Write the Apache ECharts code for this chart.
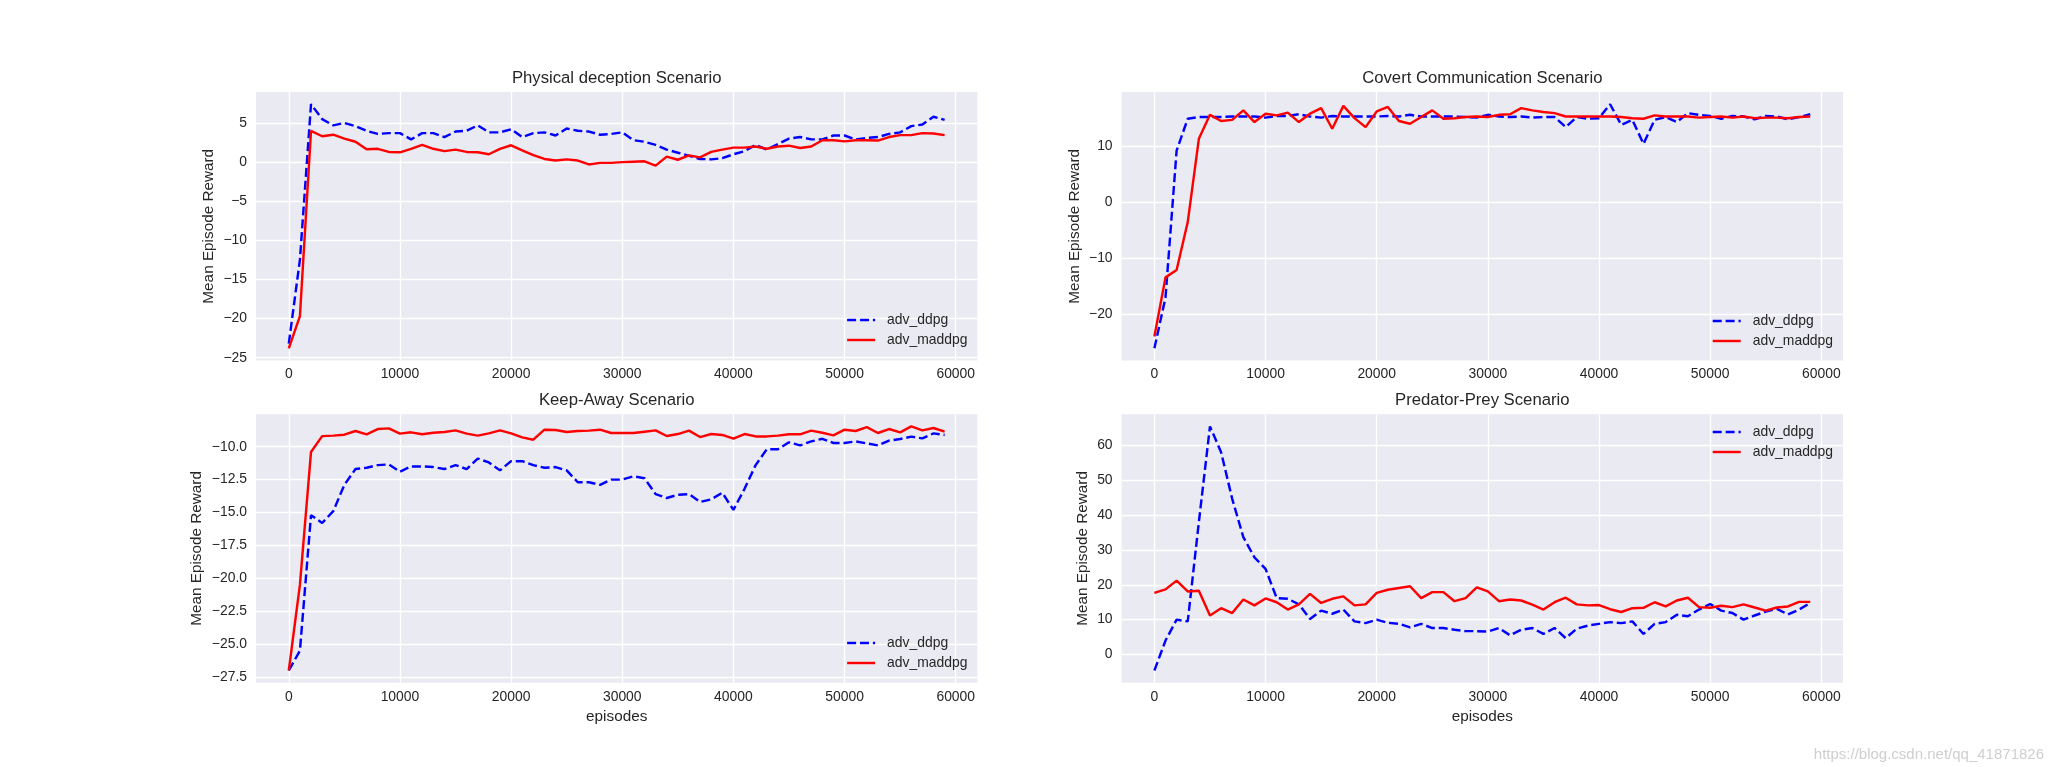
<!DOCTYPE html>
<html><head><meta charset="utf-8">
<script src="https://cdn.jsdelivr.net/npm/echarts@6/dist/echarts.min.js"></script>
<style>html,body{margin:0;padding:0;background:#fff}#c{width:2048px;height:767px}</style>
</head><body><div id="c"></div>
<script>
const episodes = [0,1000,2000,3000,4000,5000,6000,7000,8000,9000,10000,11000,12000,13000,14000,15000,16000,17000,18000,19000,20000,21000,22000,23000,24000,25000,26000,27000,28000,29000,30000,31000,32000,33000,34000,35000,36000,37000,38000,39000,40000,41000,42000,43000,44000,45000,46000,47000,48000,49000,50000,51000,52000,53000,54000,55000,56000,57000,58000,59000];

const titles = ['Physical deception Scenario','Covert Communication Scenario','Keep-Away Scenario','Predator-Prey Scenario'];
const seriesNames = ['adv_ddpg','adv_maddpg'];

const physDdpg = [-23.2,-12.5,7.4,5.5,4.7,5.0,4.6,4.0,3.6,3.7,3.7,2.9,3.7,3.7,3.2,3.9,4.0,4.7,3.8,3.8,4.2,3.2,3.7,3.8,3.4,4.3,4.0,3.9,3.5,3.6,3.8,2.8,2.6,2.2,1.6,1.2,0.8,0.4,0.35,0.5,1.0,1.4,2.2,1.6,2.3,3.0,3.2,2.9,2.9,3.4,3.4,2.9,3.1,3.2,3.6,3.8,4.6,4.8,5.8,5.4];
const physMaddpg = [-23.8,-19.7,4.0,3.3,3.5,3.0,2.6,1.65,1.7,1.3,1.25,1.7,2.2,1.7,1.4,1.6,1.3,1.25,1.0,1.7,2.15,1.5,0.9,0.4,0.2,0.35,0.2,-0.3,-0.1,-0.1,0.0,0.05,0.1,-0.45,0.7,0.3,0.85,0.6,1.3,1.6,1.85,1.85,2.0,1.7,2.0,2.1,1.8,2.0,2.8,2.8,2.65,2.8,2.8,2.75,3.2,3.45,3.45,3.7,3.65,3.45];

const covDdpg = [-26.1,-17.0,9.3,15.0,15.3,15.3,15.3,15.4,15.4,15.4,15.2,15.5,15.5,15.8,15.4,15.2,15.5,15.4,15.4,15.4,15.4,15.5,15.4,15.7,15.4,15.4,15.4,15.4,15.3,15.2,15.7,15.4,15.3,15.4,15.2,15.3,15.3,13.5,15.3,15.0,15.1,17.6,13.9,14.8,10.5,14.8,15.3,14.4,16.0,15.7,15.5,15.0,15.5,15.4,14.9,15.5,15.4,14.9,15.3,15.8];
const covMaddpg = [-24.0,-13.4,-12.1,-3.5,11.4,15.7,14.6,14.8,16.5,14.4,15.9,15.6,16.1,14.4,15.9,16.9,13.2,17.3,15.1,13.5,16.3,17.1,14.6,14.1,15.3,16.5,15.0,15.1,15.3,15.4,15.3,15.7,15.8,16.9,16.5,16.2,16.0,15.4,15.4,15.4,15.4,15.4,15.3,15.1,15.0,15.6,15.4,15.4,15.4,15.2,15.3,15.4,15.2,15.4,15.1,15.2,15.2,15.1,15.3,15.4];

const keepDdpg = [-27.0,-25.5,-15.2,-15.8,-14.9,-12.9,-11.7,-11.6,-11.4,-11.35,-11.9,-11.5,-11.5,-11.55,-11.7,-11.4,-11.7,-10.9,-11.2,-11.8,-11.1,-11.1,-11.4,-11.6,-11.55,-11.8,-12.7,-12.7,-12.9,-12.5,-12.5,-12.25,-12.4,-13.6,-13.9,-13.65,-13.6,-14.2,-14.0,-13.5,-14.8,-13.2,-11.4,-10.2,-10.2,-9.67,-9.9,-9.6,-9.4,-9.72,-9.72,-9.6,-9.75,-9.9,-9.54,-9.42,-9.24,-9.37,-8.99,-9.11];
const keepMaddpg = [-27.0,-20.5,-10.4,-9.2,-9.16,-9.09,-8.81,-9.06,-8.66,-8.61,-9.01,-8.91,-9.06,-8.94,-8.89,-8.76,-9.01,-9.16,-8.99,-8.76,-8.99,-9.29,-9.47,-8.71,-8.73,-8.89,-8.81,-8.78,-8.71,-8.96,-8.96,-8.96,-8.86,-8.76,-9.19,-9.04,-8.78,-9.27,-9.04,-9.11,-9.39,-9.04,-9.22,-9.22,-9.16,-9.06,-9.06,-8.78,-8.94,-9.14,-8.71,-8.81,-8.51,-8.96,-8.66,-8.91,-8.46,-8.76,-8.58,-8.86];

const predDdpg = [-4.6,4.0,10.0,9.5,38.0,65.5,58.1,44.7,33.7,27.9,24.6,16.2,16.0,14.4,10.2,12.6,11.7,12.9,9.5,9.0,10.0,9.1,8.8,7.8,8.8,7.6,7.6,7.1,6.7,6.7,6.6,7.6,5.5,7.1,7.6,5.9,7.6,4.7,7.4,8.3,8.8,9.3,9.0,9.5,5.9,8.8,9.3,11.4,11.0,12.9,14.5,12.6,11.9,10.0,11.2,12.3,13.1,11.5,12.9,14.8];
const predMaddpg = [17.7,18.7,21.2,18.1,18.3,11.2,13.3,11.9,15.8,14.1,16.1,15.0,12.9,14.4,17.4,14.8,16.0,16.7,14.1,14.4,17.7,18.6,19.1,19.6,16.2,17.9,17.9,15.3,16.2,19.3,18.1,15.3,15.8,15.5,14.3,12.9,15.0,16.3,14.4,14.1,14.2,13.0,12.2,13.3,13.4,15.0,13.8,15.5,16.3,13.6,13.4,14.0,13.6,14.4,13.5,12.6,13.5,13.8,15.1,15.1];

const xTicks = [0,10000,20000,30000,40000,50000,60000];
const physTicks = [-25,-20,-15,-10,-5,0,5];
const covTicks = [-20,-10,0,10];
const keepTicks = [-27.5,-25,-22.5,-20,-17.5,-15,-12.5,-10];
const predTicks = [0,10,20,30,40,50,60];

const FONT = '"Liberation Sans", Arial, sans-serif';
const TXT = '#262626';
const AX_L = [256, 1121.6], AX_T = [92, 414.2], AX_W = 721.4, AX_H = 268.5;

const panels = [
  {ddpg: physDdpg, maddpg: physMaddpg, ticks: physTicks, dec: 0, nameGap: 40, legendTop: 313},
  {ddpg: covDdpg, maddpg: covMaddpg, ticks: covTicks, dec: 0, nameGap: 39, legendTop: 314},
  {ddpg: keepDdpg, maddpg: keepMaddpg, ticks: keepTicks, dec: 1, nameGap: 51.5, legendTop: 636},
  {ddpg: predDdpg, maddpg: predMaddpg, ticks: predTicks, dec: 0, nameGap: 31, legendTop: 425}
];

function pad(lo, hi) { const r = hi - lo; return [lo - 0.05 * r, hi + 0.05 * r]; }
const xr = pad(episodes[0], episodes[episodes.length - 1]);
const fmt = dec => v => (dec ? Number(v).toFixed(dec) : String(v)).replace('-', '\u2212');

const grid = [], xAxis = [], yAxis = [], series = [], title = [], legend = [];
panels.forEach((p, i) => {
  const col = i % 2, row = Math.floor(i / 2);
  const left = AX_L[col], top = AX_T[row];
  grid.push({left, top, width: AX_W, height: AX_H, show: true, backgroundColor: '#EAEAF2', borderWidth: 0, containLabel: false});
  const all = p.ddpg.concat(p.maddpg);
  const yr = pad(Math.min(...all), Math.max(...all));
  xAxis.push({
    gridIndex: i, type: 'value', min: xr[0], max: xr[1],
    axisLine: {show: false}, axisTick: {show: false, customValues: xTicks},
    axisLabel: {customValues: xTicks, color: TXT, fontSize: 13.9, fontFamily: FONT, margin: 7, formatter: v => String(v)},
    splitLine: {show: true, lineStyle: {color: '#ffffff', width: 1.4}},
    name: row === 1 ? 'episodes' : '', nameLocation: 'middle', nameGap: 26.5,
    nameTextStyle: {color: TXT, fontSize: 15.3, fontFamily: FONT}
  });
  yAxis.push({
    gridIndex: i, type: 'value', min: yr[0], max: yr[1],
    axisLine: {show: false}, axisTick: {show: false, customValues: p.ticks},
    axisLabel: {customValues: p.ticks, color: TXT, fontSize: 13.9, fontFamily: FONT, margin: 9, formatter: fmt(p.dec)},
    splitLine: {show: true, lineStyle: {color: '#ffffff', width: 1.4}},
    name: 'Mean Episode Reward', nameLocation: 'middle', nameGap: p.nameGap, nameRotate: 90,
    nameTextStyle: {color: TXT, fontSize: 15.3, fontFamily: FONT}
  });
  series.push({
    type: 'line', name: seriesNames[0], xAxisIndex: i, yAxisIndex: i,
    data: episodes.map((e, k) => [e, p.ddpg[k]]), showSymbol: false, symbol: 'none',
    lineStyle: {color: '#0000ff', width: 2.43, type: [9, 3.9]}, itemStyle: {color: '#0000ff'}, z: 2
  });
  series.push({
    type: 'line', name: seriesNames[1], xAxisIndex: i, yAxisIndex: i,
    data: episodes.map((e, k) => [e, p.maddpg[k]]), showSymbol: false, symbol: 'none',
    lineStyle: {color: '#ff0000', width: 2.43, type: 'solid'}, itemStyle: {color: '#ff0000'}, z: 3
  });
  title.push({
    text: titles[i], left: left + AX_W / 2, textAlign: 'center', top: top - 22, padding: 0,
    textStyle: {color: TXT, fontSize: 16.7, fontWeight: 'normal', fontFamily: FONT}
  });
  legend.push({
    data: seriesNames, orient: 'vertical', left: left + AX_W - 131.5, top: p.legendTop, padding: 0,
    itemWidth: 28, itemHeight: 14, itemGap: 6,
    itemStyle: {opacity: 0, borderWidth: 0},
    lineStyle: {width: 2.43},
    textStyle: {color: TXT, fontSize: 13.9, fontFamily: FONT, lineHeight: 14, padding: [0, 0, 0, 7]}
  });
});

const chart = echarts.init(document.getElementById('c'), null, {renderer: 'canvas'});
chart.setOption({
  animation: false, backgroundColor: '#ffffff',
  grid, xAxis, yAxis, series, title, legend,
  graphic: [{type: 'text', right: 4, bottom: 5, style: {text: 'https://blog.csdn.net/qq_41871826', fill: '#cfcfcf', font: '15px ' + FONT}}]
});
</script></body></html>
